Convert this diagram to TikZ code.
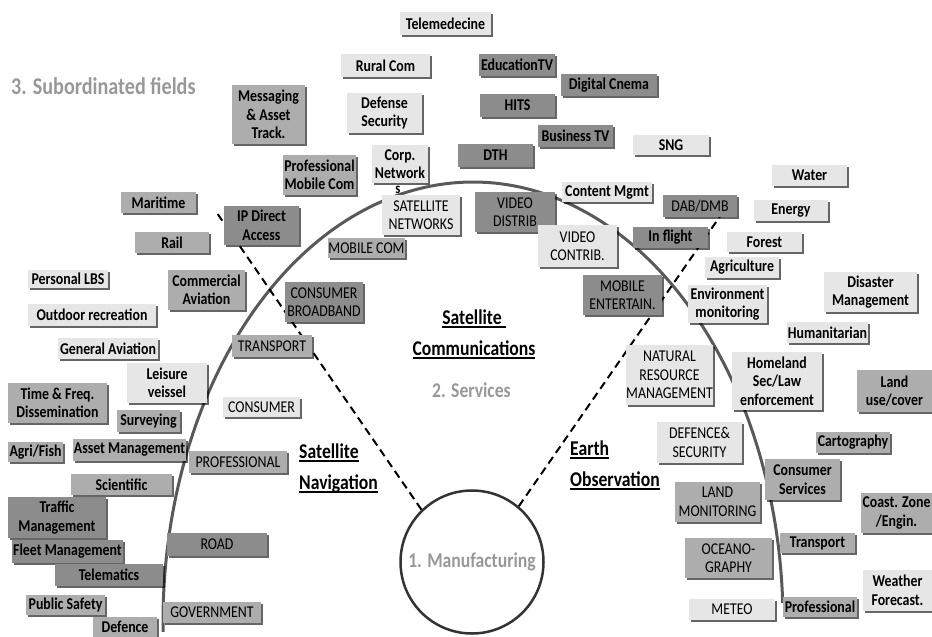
\documentclass[tikz,border=0pt]{standalone}
\usepackage{fontspec}
\setmainfont{Carlito}[FakeStretch=0.84]
\usetikzlibrary{shadows}
\definecolor{lt}{HTML}{E6E6E6}
\definecolor{md}{HTML}{ADADAD}
\definecolor{dk}{HTML}{8C8C8C}
\definecolor{gtx}{HTML}{989898}
\newcommand\myul[1]{\setbox0\hbox{#1}\rlap{\rule[-3.5pt]{\wd0}{1.6pt}}\box0}
\tikzset{
  bx/.style={rectangle, inner sep=0pt, align=center,
    font=\bfseries\fontsize{16.5}{18.5}\selectfont,
    drop shadow={shadow xshift=2pt, shadow yshift=-2pt, fill=black, opacity=0.6}},
  bl/.style={bx, fill=lt},
  bm/.style={bx, fill=md},
  bd/.style={bx, fill=dk},
  up/.style={font=\fontsize{16.5}{18.5}\selectfont},
  sz/.style 2 args={minimum width=#1pt, minimum height=#2pt},
  ttl/.style={inner sep=0pt, font=\bfseries\fontsize{21}{31}\selectfont},
  dsh/.style={draw=black, line width=2pt, dash pattern=on 8pt off 5pt},
}
\begin{document}
\begin{tikzpicture}[x=1pt,y=-1pt]
\useasboundingbox (0,0) rectangle (932,637);

% labels
\node[anchor=west, inner sep=0pt, text=gtx, font=\bfseries\fontsize{24}{28}\selectfont] (subf) at (11,86) {3. Subordinated fields};
\node[ttl, align=center] (satcom) at (474,334) {\myul{Satellite }\\\myul{Communications}};
\node[ttl, text=gtx] (serv) at (471.5,390) {2. Services};
\node[ttl, anchor=west, align=left] (satnav) at (299,468) {\myul{Satellite}\\\myul{Navigation}};
\node[ttl, anchor=west, align=left] (eo) at (570,465) {\myul{Earth}\\\myul{Observation}};
\node[circle, draw=black!80, line width=2.5pt, minimum size=143pt, inner sep=0pt, text=gtx,
      font=\bfseries\fontsize{21}{25}\selectfont] (mfg) at (472,562) {1. Manufacturing};

% big arc
\draw[line width=3pt, black!65] plot[domain=2.5:181.3, samples=140, smooth]
   ({473+310*cos(\x)}, {622-440*sin(\x)});

% dashed connectors
\coordinate (navend) at (217,213);
\coordinate (eoend) at (723,212);
\draw[dsh] (mfg.134) -- (navend);
\draw[dsh] (mfg.50) -- (eoend);

% boxes
\node[bl, sz={91}{23}] (telemed) at (445.5,23.5) {Telemedecine};
\node[bl, sz={89}{23}] (rural) at (385.5,65.5) {Rural Com};
\node[bd, sz={76}{22}] (edutv) at (517,65) {EducationTV};
\node[bd, sz={96}{22}] (dcin) at (609,85) {Digital Cnema};
\node[bd, sz={75}{23}] (hits) at (517.5,105) {HITS};
\node[bm, sz={73}{59}] (msg) at (268.5,114.5) {Messaging\\\& Asset\\Track.};
\node[bl, sz={75}{40}] (defsec) at (384.5,113) {Defense\\Security};
\node[bd, sz={75}{22}] (btv) at (575.5,136) {Business TV};
\node[bl, sz={76}{20}] (sng) at (671,145) {SNG};
\node[bd, sz={75}{23}] (dth) at (495.5,155.5) {DTH};
\node[bl, sz={56}{38}] (corp) at (400,164) {Corp.\\Network};
\node[inner sep=0pt, font=\bfseries\fontsize{15}{16}\selectfont] (corps) at (398,190) {s};
\node[bm, sz={73}{40}] (pmc) at (319.5,175) {Professional\\Mobile Com};
\node[bl, sz={90}{20}] (cmgmt) at (607,192) {Content Mgmt};
\node[bl, sz={75}{21}] (water) at (809.5,175.5) {Water};
\node[bm, sz={75}{21}] (marit) at (158.5,202.5) {Maritime};
\node[bl, up, sz={78}{40}] (satnet) at (421,215) {SATELLITE\\NETWORKS};
\node[bd, up, sz={80}{40}] (vdist) at (515,212) {VIDEO\\DISTRIB};
\node[bd, up, sz={74}{22}] (dab) at (700,206) {DAB/DMB};
\node[bl, sz={74}{21}] (energy) at (791,210.5) {Energy};
\node[bd, sz={75}{39}] (ipda) at (261.5,225.5) {IP Direct\\Access};
\node[bm, up, sz={77}{20}] (mobcom) at (366.5,248) {MOBILE COM};
\node[bl, up, sz={79}{42}] (vcont) at (577.5,246) {VIDEO\\CONTRIB.};
\node[bd, sz={75}{21}] (inflight) at (670.5,237.5) {In flight};
\node[bl, sz={75}{20}] (forest) at (764.5,242) {Forest};
\node[bm, sz={74}{21}] (rail) at (172,242.5) {Rail};
\node[bl, sz={74}{21}] (agri) at (742,267.5) {Agriculture};
\node[bl, sz={80}{18}] (plbs) at (68,279) {Personal LBS};
\node[bm, sz={77}{40}] (comav) at (206.5,290) {Commercial\\Aviation};
\node[bd, up, sz={78}{40}] (cbb) at (324,302) {CONSUMER\\BROADBAND};
\node[bd, up, sz={79}{40}] (mobent) at (622.5,295) {MOBILE\\ENTERTAIN.};
\node[bl, sz={93}{40}] (disast) at (870.5,292) {Disaster\\Management};
\node[bl, sz={79}{38}] (envmon) at (727.5,304) {Environment\\monitoring};
\node[bl, sz={128}{22}] (outdoor) at (92,315) {Outdoor recreation};
\node[bl, sz={81}{21}] (human) at (827.5,332.5) {Humanitarian};
\node[bl, sz={100}{21}] (genav) at (108,348.5) {General Aviation};
\node[bm, up, sz={80}{22}] (transp) at (272,346) {TRANSPORT};
\node[bl, up, sz={85}{60}] (natres) at (669.5,375) {NATURAL\\RESOURCE\\MANAGEMENT};
\node[bl, sz={80}{40}] (leis) at (167,383) {Leisure\\veissel};
\node[bl, sz={90}{58}] (homel) at (777,381) {Homeland\\Sec/Law\\enforcement};
\node[bm, sz={75}{42}] (landuse) at (894.5,391) {Land\\use/cover};
\node[bm, sz={99}{40}] (timefreq) at (57.5,403) {Time \& Freq.\\Dissemination};
\node[bl, up, sz={77}{20}] (cons) at (261.5,407) {CONSUMER};
\node[bm, sz={63}{22}] (surv) at (148.5,421) {Surveying};
\node[bl, up, sz={85}{41}] (defsec2) at (699.5,442.5) {DEFENCE\&\\SECURITY};
\node[bm, sz={74}{21}] (carto) at (853,442.5) {Cartography};
\node[bm, sz={55}{20}] (agrifish) at (35.5,452) {Agri/Fish};
\node[bm, sz={113}{22}] (assetm) at (129.5,450) {Asset Management};
\node[bm, up, sz={98}{22}] (prof) at (238,462) {PROFESSIONAL};
\node[bm, sz={75}{41}] (conserv) at (802.5,479.5) {Consumer\\Services};
\node[bm, sz={101}{21}] (sci) at (121.5,484.5) {Scientific};
\node[bm, up, sz={85}{40}] (landmon) at (717.5,502) {LAND\\MONITORING};
\node[bm, sz={71}{40}] (coast) at (896.5,513) {Coast. Zone\\/Engin.};
\node[bd, sz={98}{41}] (traffic) at (57,517.5) {Traffic\\Management};
\node[bd, up, sz={100}{23}] (road) at (217,544.5) {ROAD};
\node[bd, sz={111}{23}] (fleet) at (67.5,551.5) {Fleet Management};
\node[bm, sz={75}{20}] (transp2) at (817.5,543) {Transport};
\node[bm, up, sz={87}{40}] (ocean) at (728.5,558) {OCEANO-\\GRAPHY};
\node[bd, sz={108}{22}] (telem) at (109,575) {Telematics};
\node[bl, sz={69}{41}] (weather) at (897.5,590.5) {Weather\\Forecast.};
\node[bm, sz={79}{20}] (pubsaf) at (65.5,605) {Public Safety};
\node[bm, sz={74}{20}] (prof2) at (820,607) {Professional};
\node[bl, up, sz={86}{21}] (meteo) at (732,609.5) {METEO};
\node[bm, up, sz={98}{21}] (gov) at (212,612.5) {GOVERNMENT};
\node[bm, sz={64}{20}] (defence) at (125,627) {Defence};
\end{tikzpicture}
\end{document}
